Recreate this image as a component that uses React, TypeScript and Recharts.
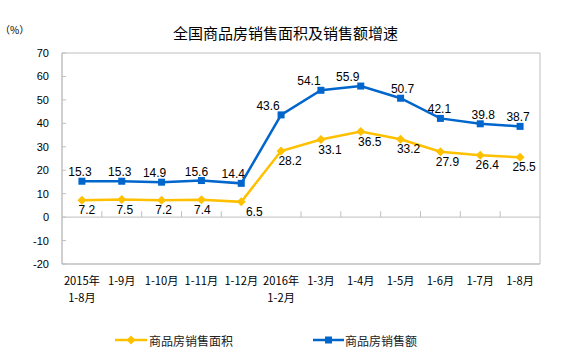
import React from "react";
import {
  LineChart,
  Line,
  XAxis,
  YAxis,
  Legend,
  LabelList,
  ReferenceLine,
  ReferenceArea,
} from "recharts";

const categories = [
  "2015年\n1-8月",
  "1-9月",
  "1-10月",
  "1-11月",
  "1-12月",
  "2016年\n1-2月",
  "1-3月",
  "1-4月",
  "1-5月",
  "1-6月",
  "1-7月",
  "1-8月",
];
const areaGrowth = [7.2, 7.5, 7.2, 7.4, 6.5, 28.2, 33.1, 36.5, 33.2, 27.9, 26.4, 25.5];
const salesGrowth = [15.3, 15.3, 14.9, 15.6, 14.4, 43.6, 54.1, 55.9, 50.7, 42.1, 39.8, 38.7];
const yTicks = [-20, -10, 0, 10, 20, 30, 40, 50, 60, 70];

// small sideways nudges so labels sit like the original
const areaLabelDx = [5, 3, 2, 1, 13, 9, 9, 9, 8, 7, 7, 4];
const salesLabelDx = [-2, -2, -7, -5, -8, -13, -12, -13, 2, -1, 3, -2];

const AREA_COLOR = "#FFC000";
const SALES_COLOR = "#0066CC";
const FRAME = "#BFBFBF";
const CJK = '"Noto Sans CJK SC", "Noto Sans", sans-serif';
const LATIN = '"Liberation Sans", Arial, sans-serif';

const data = categories.map((name, i) => ({
  name,
  area: areaGrowth[i],
  sales: salesGrowth[i],
}));

const XTick = (props: any) => {
  const { x, y, payload } = props;
  const lines = String(payload.value).split("\n");
  return (
    <text x={x} y={y + 21} textAnchor="middle" fontSize={11.2} fontFamily={CJK} fill="#000">
      {lines.map((t, i) => (
        <tspan key={i} x={x} dy={i === 0 ? 0 : 16.5}>
          {t}
        </tspan>
      ))}
    </text>
  );
};

const YTick = (props: any) => {
  const { x, y, payload } = props;
  return (
    <g>
      <line x1={x} x2={x + 4} y1={y} y2={y} stroke={FRAME} />
      <text x={x - 13} y={y + 4} textAnchor="end" fontSize={11} fontFamily={LATIN} fill="#000">
        {payload.value}
      </text>
    </g>
  );
};

const makeLabel = (dxs: number[], dy: number) => (props: any) => {
  const { x, y, value, index } = props;
  return (
    <text
      key={index}
      x={x + (dxs[index] || 0)}
      y={y + dy}
      textAnchor="middle"
      fontSize={12}
      fontFamily={LATIN}
      fill="#000"
    >
      {value}
    </text>
  );
};

const Diamond = (props: any) => {
  const { cx, cy, index } = props;
  if (cx == null || cy == null) return <g key={index} />;
  const r = 4.5;
  return (
    <path
      key={index}
      d={`M${cx},${cy - r}L${cx + r},${cy}L${cx},${cy + r}L${cx - r},${cy}Z`}
      fill={AREA_COLOR}
    />
  );
};

const Square = (props: any) => {
  const { cx, cy, index } = props;
  if (cx == null || cy == null) return <g key={index} />;
  return <rect key={index} x={cx - 3.5} y={cy - 3.5} width={7} height={7} fill={SALES_COLOR} />;
};

const LegendContent = () => (
  <div
    style={{
      height: 20,
      display: "flex",
      alignItems: "center",
      fontFamily: CJK,
      fontSize: 12,
      color: "#222",
      paddingLeft: 115,
    }}
  >
    <svg width={32} height={12}>
      <line x1={0} x2={32} y1={6} y2={6} stroke={AREA_COLOR} strokeWidth={2.5} />
      <path d="M16,1.5L20.5,6L16,10.5L11.5,6Z" fill={AREA_COLOR} />
    </svg>
    <span style={{ marginLeft: 2 }}>商品房销售面积</span>
    <svg width={31} height={12} style={{ marginLeft: 80 }}>
      <line x1={0} x2={31} y1={6} y2={6} stroke={SALES_COLOR} strokeWidth={2.5} />
      <rect x={12} y={2.5} width={7} height={7} fill={SALES_COLOR} />
    </svg>
    <span style={{ marginLeft: 1 }}>商品房销售额</span>
  </div>
);

export default function App() {
  return (
    <div style={{ position: "absolute", left: 0, top: 0, width: 566, height: 357, background: "#fff" }}>
      <div
        style={{
          position: "absolute",
          left: 173,
          top: 23,
          fontFamily: CJK,
          fontSize: 15,
          lineHeight: "20px",
          color: "#000",
          whiteSpace: "nowrap",
        }}
      >
        全国商品房销售面积及销售额增速
      </div>
      <div
        style={{
          position: "absolute",
          left: 0,
          top: 22,
          fontFamily: CJK,
          fontSize: 10,
          lineHeight: "16px",
          color: "#000",
        }}
      >
        （%）
      </div>
      <LineChart
        width={566}
        height={357}
        data={data}
        margin={{ top: 53, right: 26, left: 0, bottom: 7 }}
      >
        <XAxis
          dataKey="name"
          scale="band"
          interval={0}
          tickLine={false}
          tickSize={0}
          tickMargin={0}
          axisLine={{ stroke: FRAME }}
          tick={<XTick />}
          height={66}
        />
        <YAxis
          domain={[-20, 70]}
          ticks={yTicks}
          width={62}
          tickLine={false}
          tickSize={0}
          tickMargin={0}
          axisLine={{ stroke: FRAME }}
          tick={<YTick />}
          allowDataOverflow
        />
        <ReferenceArea y1={-20} y2={70} fill="none" stroke={FRAME} />
        <ReferenceLine y={0} stroke={FRAME} />
        {categories.slice(0, -1).map((c) => (
          <ReferenceLine
            key={c}
            segment={[
              { x: c, y: 0 },
              { x: c, y: 2.5 },
            ]}
            position="end"
            stroke={FRAME}
          />
        ))}
        <Legend verticalAlign="bottom" content={<LegendContent />} />
        <Line
          dataKey="area"
          name="商品房销售面积"
          stroke={AREA_COLOR}
          strokeWidth={2.5}
          dot={Diamond}
          activeDot={false}
          isAnimationActive={false}
        >
          <LabelList dataKey="area" content={makeLabel(areaLabelDx, 14)} />
        </Line>
        <Line
          dataKey="sales"
          name="商品房销售额"
          stroke={SALES_COLOR}
          strokeWidth={2.5}
          dot={Square}
          activeDot={false}
          isAnimationActive={false}
        >
          <LabelList dataKey="sales" content={makeLabel(salesLabelDx, -5)} />
        </Line>
      </LineChart>
    </div>
  );
}
